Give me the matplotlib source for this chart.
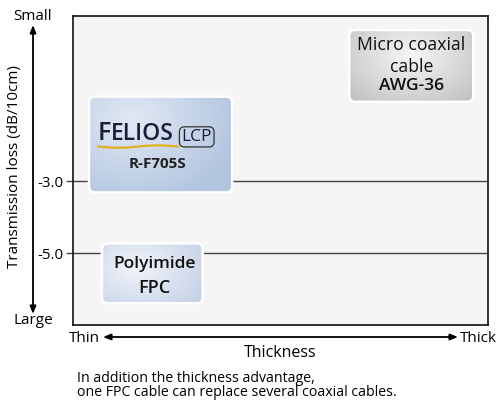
import numpy as np
import matplotlib
matplotlib.use("Agg")
import matplotlib.pyplot as plt
from matplotlib.patches import FancyBboxPatch
from matplotlib.colors import to_rgb

plt.rcParams['font.family'] = ['Open Sans', 'DejaVu Sans']

# ---- data ----
yticks = [-3.0, -5.0]
ytick_labels = ["-3.0", "-5.0"]
products = ["FELIOS", "Micro coaxial", "Polyimide"]
thickness_center = [0.211, 0.815, 0.191]   # relative thickness (0 thin .. 1 thick)
loss_center = [-1.97, 0.22, -5.56]         # dB/10cm (approx. position)

# ---- layout ----
box_w = [0.345, 0.299, 0.243]
box_h = [2.67, 2.0, 1.67]
light = ["#e2e9f4", "#f7f7f7", "#f1f4fa"]
dark = ["#b2c5df", "#bdbdbd", "#c6d2e6"]
grad_center = [(0.3, 0.75), (0.5, 0.65), (0.35, 0.6)]

fig = plt.figure(figsize=(5.0, 4.03), dpi=100)
ax = fig.add_axes([73/500, 1-325/403, 415/500, 309/403])
ax.set_xlim(0, 1)
ax.set_ylim(-7.0, 1.61)
ax.set_facecolor("#f5f5f5")
for s in ax.spines.values():
    s.set_color("#111111")
    s.set_linewidth(1.2)

for yv in yticks:
    ax.axhline(yv, color="#444444", lw=1.0, zorder=1)
ax.set_xticks([])
ax.set_yticks(yticks)
ax.set_yticklabels(ytick_labels, fontsize=10.8)
ax.tick_params(axis='y', length=5, width=1, color="#444444", pad=2)

xr = 1.0 / 415.0
yr = 1.0 / 36.0
rad_px = 6

for i in range(len(products)):
    cx, cy = thickness_center[i], loss_center[i]
    w, h = box_w[i], box_h[i]
    x0, y0 = cx - w/2, cy - h/2
    patch = FancyBboxPatch((x0, y0), w, h,
                           boxstyle=f"round,pad=0,rounding_size={rad_px*xr}",
                           mutation_aspect=(yr/xr),
                           fc="none", ec="white", lw=1.8, zorder=4)
    ax.add_patch(patch)
    n = 120
    gx, gy = np.meshgrid(np.linspace(0, 1, n), np.linspace(0, 1, n))
    gcx, gcy = grad_center[i]
    r = np.sqrt(((gx - gcx)/0.75)**2 + ((gy - gcy)/0.9)**2)
    t = np.clip(r, 0, 1)[..., None]
    img = np.array(to_rgb(light[i]))*(1-t) + np.array(to_rgb(dark[i]))*t
    im = ax.imshow(img, extent=(x0, x0+w, y0, y0+h), origin='lower',
                   aspect='auto', zorder=3, interpolation='bilinear')
    im.set_clip_path(patch)

# FELIOS logo
navy = "#1b1d3a"
tF = ax.text((98-73)*xr, -3 + (182-140)*yr, "F", fontsize=18, fontweight='semibold',
             color=navy, va='baseline', ha='left', zorder=6)
tE = ax.annotate("ELIOS", xy=(1, 0), xycoords=tF, xytext=(-0.3, 0),
                 textcoords='offset points', fontsize=16.5, fontweight='semibold',
                 color=navy, va='bottom', ha='left', zorder=6)
ax.annotate("LCP", xy=(1, 0), xycoords=tE, xytext=(5.5, 0.5), textcoords='offset points',
            fontsize=12.5, color=navy, va='bottom', ha='left', zorder=6,
            bbox=dict(boxstyle="round,pad=0.12,rounding_size=0.3", fc="none",
                      ec="#333333", lw=0.9))
sx = np.linspace(98, 178, 50)
sy = 147 + 1.2*np.sin((sx-98)/80*2*np.pi)
ax.plot((sx-73)*xr, -3 + (182-sy)*yr, color="#e2b21c", lw=1.6, zorder=6,
        solid_capstyle='round')
ax.text((157-73)*xr, -3 + (182-164)*yr, "R-F705S", fontsize=11, fontweight='bold',
        color="#222222", ha='center', va='center', zorder=6)

# Micro coaxial
ax.text(thickness_center[1], -3 + (182-45)*yr, "Micro coaxial", fontsize=12.7,
        color="#111111", ha='center', va='center', zorder=6)
ax.text(thickness_center[1], -3 + (182-67)*yr, "cable", fontsize=12.7,
        color="#111111", ha='center', va='center', zorder=6)
ax.text(thickness_center[1], -3 + (182-86)*yr, "AWG-36", fontsize=12.5, fontweight='semibold',
        color="#111111", ha='center', va='center', zorder=6)

# Polyimide
ax.text(thickness_center[2] + 2*xr, -3 + (182-265)*yr, "Polyimide", fontsize=12.5,
        fontweight='semibold', color="#111111", ha='center', va='center', zorder=6)
ax.text(thickness_center[2] + 2*xr, -3 + (182-289)*yr, "FPC", fontsize=13,
        fontweight='semibold', color="#111111", ha='center', va='center', zorder=6)

def F(px, py):
    return (px/500, 1 - py/403)

arrow = dict(arrowstyle="<|-|>,head_length=0.45,head_width=0.18", color="black", lw=1.3,
             shrinkA=0, shrinkB=0)
ax.annotate("", xy=F(33, 25), xytext=F(33, 314), xycoords='figure fraction',
            textcoords='figure fraction', arrowprops=arrow, annotation_clip=False)
ax.annotate("", xy=F(103, 337), xytext=F(458, 337), xycoords='figure fraction',
            textcoords='figure fraction', arrowprops=arrow, annotation_clip=False)

fs = 11
fig.text(*F(33, 16), "Small", fontsize=fs, ha='center', va='center')
fig.text(*F(33, 321), "Large", fontsize=fs, ha='center', va='center')
fig.text(*F(15, 167), "Transmission loss (dB/10cm)", fontsize=fs, rotation=90,
         ha='center', va='center')
fig.text(*F(100, 338), "Thin", fontsize=fs, ha='right', va='center')
fig.text(*F(460, 338), "Thick", fontsize=fs, ha='left', va='center')
fig.text(*F(280, 353), "Thickness", fontsize=11.5, ha='center', va='center')
fig.text(*F(77, 378), "In addition the thickness advantage,", fontsize=10.2, ha='left', va='center')
fig.text(*F(77, 393), "one FPC cable can replace several coaxial cables.", fontsize=10.2,
         ha='left', va='center')

fig.savefig("out.png", dpi=100)
